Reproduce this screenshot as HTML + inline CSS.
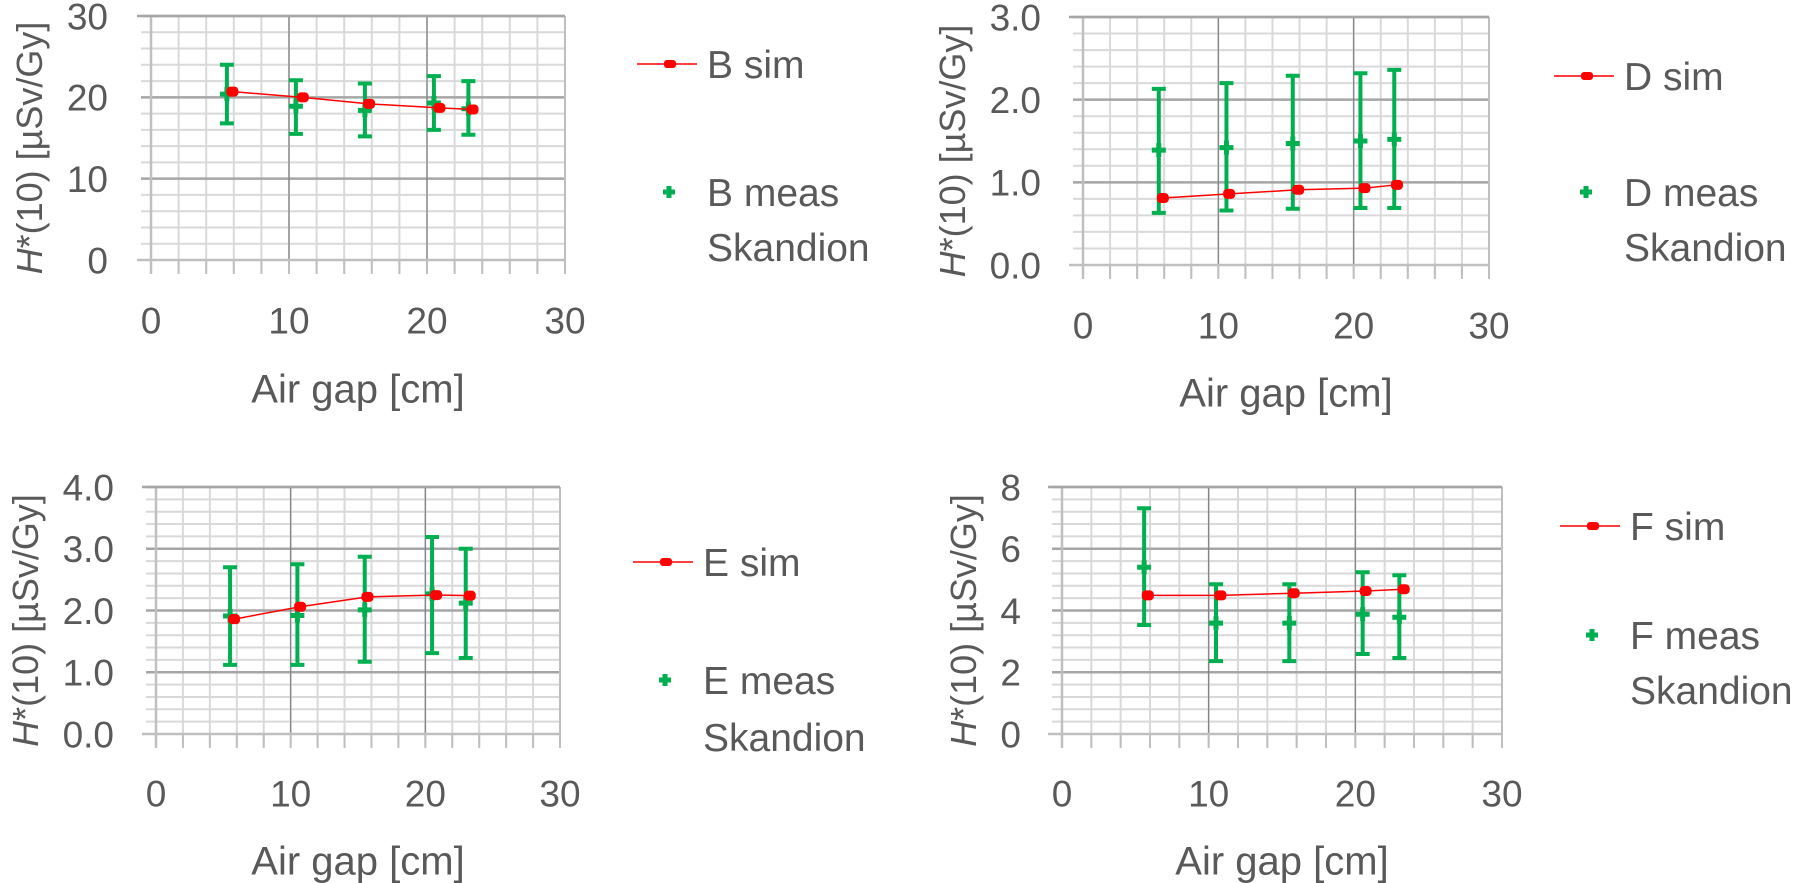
<!DOCTYPE html>
<html><head><meta charset="utf-8"><style>
html,body{margin:0;padding:0;background:#fff;}
svg{display:block;font-family:"Liberation Sans",sans-serif;}
</style></head><body>
<svg id="fig" width="1796" height="883" viewBox="0 0 1796 883" xmlns="http://www.w3.org/2000/svg"></svg>
<script>
const simX_B = [5.9, 11.0, 15.8, 20.9, 23.3];
const measX_B = [5.5, 10.5, 15.5, 20.5, 23.0];
const simY_B = [20.7, 20.0, 19.2, 18.7, 18.5];
const measY_B = [20.4, 18.9, 18.4, 19.3, 18.6];
const measHi_B = [24.0, 22.1, 21.7, 22.6, 22.0];
const measLo_B = [16.8, 15.5, 15.2, 16.0, 15.4];

const simX_D = [5.9, 10.8, 15.9, 20.8, 23.2];
const measX_D = [5.6, 10.6, 15.5, 20.5, 23.0];
const simY_D = [0.81, 0.86, 0.91, 0.93, 0.97];
const measY_D = [1.39, 1.42, 1.47, 1.50, 1.52];
const measHi_D = [2.13, 2.20, 2.29, 2.32, 2.36];
const measLo_D = [0.63, 0.66, 0.68, 0.69, 0.69];

const simX_E = [5.8, 10.7, 15.7, 20.8, 23.3];
const measX_E = [5.5, 10.5, 15.5, 20.5, 23.0];
const simY_E = [1.86, 2.06, 2.22, 2.25, 2.24];
const measY_E = [1.91, 1.92, 2.01, 2.27, 2.12];
const measHi_E = [2.70, 2.75, 2.87, 3.19, 3.00];
const measLo_E = [1.12, 1.12, 1.17, 1.31, 1.23];

const simX_F = [5.85, 10.8, 15.8, 20.7, 23.3];
const measX_F = [5.6, 10.5, 15.5, 20.5, 23.0];
const simY_F = [4.49, 4.49, 4.56, 4.63, 4.69];
const measY_F = [5.40, 3.59, 3.59, 3.88, 3.78];
const measHi_F = [7.31, 4.85, 4.85, 5.24, 5.14];
const measLo_F = [3.53, 2.36, 2.36, 2.59, 2.46];

const xTicks = [0, 10, 20, 30];
const yTicks_B = ["0", "10", "20", "30"];
const yTicks_D = ["0.0", "1.0", "2.0", "3.0"];
const yTicks_E = ["0.0", "1.0", "2.0", "3.0", "4.0"];
const yTicks_F = ["0", "2", "4", "6", "8"];

const NS = "http://www.w3.org/2000/svg";
const fig = document.getElementById('fig');
function mk(tag, attrs, parent) {
  const e = document.createElementNS(NS, tag);
  for (const k in attrs) e.setAttribute(k, attrs[k]);
  (parent || fig).appendChild(e);
  return e;
}
const TF = 37, LF = 39, XF = 40, YF = 36;

function chart(o) {
  const g = mk('g', {});
  
  
  const ymax = parseFloat(o.yTicks[o.yTicks.length - 1]);
  const sx = v => o.L + (v / 30) * (o.R - o.L);
  const sy = v => o.B - (v / ymax) * (o.B - o.T);
  const nMaj = o.yTicks.length - 1;
  const majStep = ymax / nMaj;
  for (let i = 0; i <= nMaj * 5; i++) {
    const y = o.B - i * (o.B - o.T) / (nMaj * 5);
    const l = mk('line', {x1: o.L - 10, x2: o.R, y1: y, y2: y, stroke: '#d9d9d9', 'stroke-width': 2}, g);
    
    
  }
  for (let v = 0; v <= 30; v += 2) {
    const x = sx(v);
    const l = mk('line', {x1: x, x2: x, y1: o.T, y2: o.B + 12, stroke: '#d9d9d9', 'stroke-width': 2}, g);
    
    
  }
  for (let i = 1; i <= nMaj; i++) {
    const y = sy(i * majStep);
    const l = mk('line', {x1: o.L - 10, x2: o.R, y1: y, y2: y, stroke: '#a6a6a6', 'stroke-width': 2.5}, g);
    
    
  }
  [10, 20].forEach(v => {
    const l = mk('line', {x1: sx(v), x2: sx(v), y1: o.T, y2: o.B + 14, stroke: '#808080', 'stroke-width': 1.2}, g);
    
    
  });
  for (let v = 0; v <= 30; v += 2) {
    const t = mk('line', {x1: sx(v), x2: sx(v), y1: o.B, y2: o.B + 14, stroke: '#bfbfbf', 'stroke-width': 2}, g);
    
    
  }
  const ay = mk('line', {x1: o.L, x2: o.L, y1: o.T, y2: o.B + 14, stroke: '#bfbfbf', 'stroke-width': 2.5}, g);
  
  
  const ax = mk('line', {x1: o.L - 14, x2: o.R, y1: o.B, y2: o.B, stroke: '#bfbfbf', 'stroke-width': 2.5}, g);
  
  
  const rt = mk('line', {x1: o.R, x2: o.R, y1: o.T, y2: o.B + 14, stroke: '#bfbfbf', 'stroke-width': 2}, g);
  
  
  const tp = mk('line', {x1: o.L - 14, x2: o.R, y1: o.T, y2: o.T, stroke: '#a6a6a6', 'stroke-width': 2.5}, g);
  
  
  o.yTicks.forEach((s, i) => {
    const t = mk('text', {x: o.yLabelRight, y: sy(i * majStep) + TF * 0.36, 'text-anchor': 'end', 'font-size': TF, fill: '#595959'}, g);
    t.textContent = s;
    
    
  });
  xTicks.forEach(v => {
    const t = mk('text', {x: sx(v), y: o.xLabelY + TF * 0.36, 'text-anchor': 'middle', 'font-size': TF, fill: '#595959'}, g);
    t.textContent = v;
    
    
  });
  const xt = mk('text', {x: (o.L + o.R) / 2, y: o.xTitleY + XF * 0.36, 'text-anchor': 'middle', 'font-size': XF, fill: '#595959'}, g);
  xt.textContent = 'Air gap [cm]';
  
  
  const cy = (o.T + o.B) / 2 + 10;
  const yt = mk('text', {x: 0, y: 0, 'text-anchor': 'middle', 'font-size': YF, fill: '#595959',
    transform: 'translate(' + (o.yTitleX + YF * 0.36) + ',' + cy + ') rotate(-90)'}, g);
  
  
  const ts1 = mk('tspan', {'font-style': 'italic'}, yt); ts1.textContent = 'H';
  const ts2 = mk('tspan', {}, yt); ts2.textContent = '*(10)  [µSv/Gy]';
  o.mx.forEach((xv, i) => {
    const x = sx(xv);
    const eb = mk('path', {d: 'M' + x + ' ' + sy(o.hi[i]) + 'V' + sy(o.lo[i]) +
      'M' + (x - 7) + ' ' + sy(o.hi[i]) + 'H' + (x + 7) + 'M' + (x - 7) + ' ' + sy(o.lo[i]) + 'H' + (x + 7),
      stroke: '#00b050', 'stroke-width': 4, fill: 'none'}, g);
    
    
    const y = sy(o.my[i]);
    const pm = mk('path', {d: 'M' + (x - 7) + ' ' + y + 'H' + (x + 7) + 'M' + x + ' ' + (y - 7) + 'V' + (y + 7),
      stroke: '#00b050', 'stroke-width': 5, fill: 'none'}, g);
    
    
  });
  const pts = o.sx_.map((xv, i) => sx(xv) + ',' + sy(o.sy_[i])).join(' ');
  const pl = mk('polyline', {points: pts, fill: 'none', stroke: '#ff0000', 'stroke-width': 1.5}, g);
  
  
  o.sx_.forEach((xv, i) => {
    const r = mk('rect', {x: sx(xv) - 6, y: sy(o.sy_[i]) - 5, width: 12, height: 10, rx: 4, fill: '#ff0000'}, g);
    
    
  });
  const lg = mk('g', {}, g);
  
  
  const ll = mk('line', {x1: o.legX - 70, x2: o.legX - 10, y1: o.legY1, y2: o.legY1, stroke: '#ff0000', 'stroke-width': 1.5}, lg);
  
  
  const lr = mk('rect', {x: o.legX - 43, y: o.legY1 - 4, width: 12, height: 8, rx: 3, fill: '#ff0000'}, lg);
  
  
  const t1 = mk('text', {x: o.legX, y: o.legY1 + LF * 0.36, 'font-size': LF, fill: '#595959'}, lg);
  t1.textContent = o.letter + ' sim';
  
  
  const px = o.legX - 38, py = o.legY2;
  const lp = mk('path', {d: 'M' + (px - 6) + ' ' + py + 'H' + (px + 6) + 'M' + px + ' ' + (py - 6) + 'V' + (py + 6),
    stroke: '#00b050', 'stroke-width': 5, fill: 'none'}, lg);
  
  
  const t2 = mk('text', {x: o.legX, y: o.legY2 + LF * 0.36, 'font-size': LF, fill: '#595959'}, lg);
  t2.textContent = o.letter + ' meas';
  
  
  const t3 = mk('text', {x: o.legX, y: o.legY3 + LF * 0.36, 'font-size': LF, fill: '#595959'}, lg);
  t3.textContent = 'Skandion';
  
  
}

chart({name: 'chart-b', letter: 'B', L: 151, R: 565, T: 16, B: 260, yTicks: yTicks_B, yLabelRight: 108,
  xLabelY: 320, xTitleY: 388, yTitleX: 29, sx_: simX_B, sy_: simY_B, mx: measX_B, my: measY_B, hi: measHi_B, lo: measLo_B,
  legX: 707, legY1: 64, legY2: 192, legY3: 247});
chart({name: 'chart-d', letter: 'D', L: 1083, R: 1489, T: 17, B: 265, yTicks: yTicks_D, yLabelRight: 1041,
  xLabelY: 325, xTitleY: 392, yTitleX: 952, sx_: simX_D, sy_: simY_D, mx: measX_D, my: measY_D, hi: measHi_D, lo: measLo_D,
  legX: 1624, legY1: 76, legY2: 192, legY3: 247});
chart({name: 'chart-e', letter: 'E', L: 156, R: 560, T: 487, B: 734, yTicks: yTicks_E, yLabelRight: 114,
  xLabelY: 793, xTitleY: 860, yTitleX: 25, sx_: simX_E, sy_: simY_E, mx: measX_E, my: measY_E, hi: measHi_E, lo: measLo_E,
  legX: 703, legY1: 562, legY2: 680, legY3: 737});
chart({name: 'chart-f', letter: 'F', L: 1062, R: 1502, T: 487, B: 734, yTicks: yTicks_F, yLabelRight: 1021,
  xLabelY: 793, xTitleY: 860, yTitleX: 963, sx_: simX_F, sy_: simY_F, mx: measX_F, my: measY_F, hi: measHi_F, lo: measLo_F,
  legX: 1630, legY1: 526, legY2: 635, legY3: 690});
</script>
</body></html>
